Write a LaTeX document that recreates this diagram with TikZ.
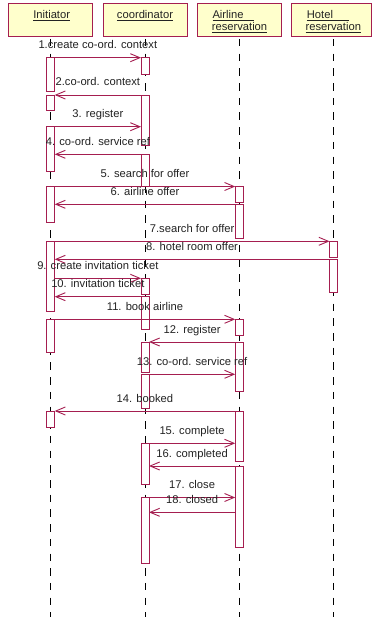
\documentclass[tikz,border=0pt]{standalone}
\usepackage{fontspec}
\setmainfont{Liberation Sans}
\usetikzlibrary{arrows.meta}
\definecolor{umlred}{RGB}{165,30,80}
\definecolor{umlfill}{RGB}{255,255,204}
\definecolor{txtc}{RGB}{35,35,35}
\newcommand\actv[4]{\node[actbox, minimum height={(#4)-(#3)}] (#1) at (#2,{((#3)+(#4))/2}) {};}
\newcommand\msg[5]{%
  \coordinate (#1s) at (#2,#4);
  \coordinate (#1e) at (#3,#4);
  \draw[msg] (#1s) -- (#1e) node[lbl, midway, yshift=9pt] {#5};}
\begin{document}
\begin{tikzpicture}[x=1pt,y=-1pt,
  headbox/.style={draw=umlred, fill=umlfill, line width=1pt, minimum width=84pt, minimum height=33pt, inner sep=0pt},
  headtxt/.style={text=txtc, font=\fontsize{11.2}{13}\selectfont, inner sep=0pt},
  life/.style={draw=black, line width=0.9pt, dash pattern=on 7.5pt off 7.2pt, dash phase=-2pt},
  actbox/.style={draw=umlred, fill=white, line width=0.9pt, minimum width=8pt, inner sep=0pt},
  msg/.style={draw=umlred, line width=0.9pt, -{Straight Barb[length=9.5pt,width=8pt]}},
  lbl/.style={text=txtc, font=\fontsize{11.2}{13}\selectfont, inner sep=0pt, anchor=base}
]
\useasboundingbox (0,0) rectangle (372,617);
\fill[white] (0,0) rectangle (372,617);

% header boxes
\node[headbox] (I) at (50.5,20.5) {};
\node[headbox] (C) at (145,20.5) {};
\node[headbox] (A) at (239,20.5) {};
\node[headbox, minimum width=79.3pt] (H) at (331.35,20.5) {};

% lifelines
\coordinate (Itop) at (50.7,37);  \coordinate (Iend) at (50.7,617);
\coordinate (Ctop) at (145,37);   \coordinate (Cend) at (145,617);
\coordinate (Atop) at (239.2,37); \coordinate (Aend) at (239.2,617);
\coordinate (Htop) at (333.5,37); \coordinate (Hend) at (333.5,617);
\draw[life] (Itop) -- (Iend);
\draw[life] (Ctop) -- (Cend);
\draw[life] (Atop) -- (Aend);
\draw[life] (Htop) -- (Hend);

% header texts
\node[headtxt, anchor=base] (It) at (51.7,18.3) {\underline{Initiator}};
\node[headtxt, anchor=base] (Ct) at (145,18.3) {\underline{coordinator}};
\node[headtxt, anchor=base west] (At1) at (212.3,18.3) {\underline{Airline\hspace{10.5pt}}};
\node[headtxt, anchor=base] (At2) at (239.5,31) {\underline{reservation}};
\node[headtxt, anchor=base west] (Ht1) at (306.7,18.3) {\underline{Hotel\hspace{15.5pt}}};
\node[headtxt, anchor=base] (Ht2) at (333.3,31) {\underline{reservation}};

% activations: Initiator
\actv{Ia}{50.7}{57.7}{91}
\actv{Ib}{50.7}{95}{110.7}
\actv{Ic}{50.7}{126.7}{171.7}
\actv{Id}{50.7}{186.5}{222.5}
\actv{Ie}{50.7}{241.3}{311.7}
\actv{If}{50.7}{319.3}{352.7}
\actv{Ig}{50.7}{411}{427.3}
% coordinator
\actv{Ca}{145}{57.7}{74}
\actv{Cb}{145}{95}{145}
\actv{Cc}{145}{154.3}{186.7}
\actv{Cd}{145}{278.3}{294}
\actv{Ce}{145}{296.7}{329.5}
\actv{Cf}{145}{342}{372.5}
\actv{Cg}{145}{374.3}{408}
\actv{Ch}{145}{443.3}{484.3}
\actv{Ci}{145}{497.5}{563}
% airline
\actv{Aa}{239.2}{186.5}{202.7}
\actv{Ab}{239.2}{204.3}{238.3}
\actv{Ac}{239.2}{319.3}{335.3}
\actv{Ad}{239.2}{342}{391.7}
\actv{Ae}{239.2}{411}{461.5}
\actv{Af}{239.2}{466}{547.3}
% hotel
\actv{Ha}{333.5}{241.3}{257.3}
\actv{Hb}{333.5}{259.3}{292.7}

% messages
\msg{m1}{54.7}{141}{57.7}{1.create co-ord. context}
\msg{m2}{141}{54.7}{95}{2.co-ord. context}
\msg{m3}{54.7}{141}{126.7}{3. register}
\msg{m4}{141}{54.7}{154.3}{4. co-ord. service ref}
\msg{m5}{54.7}{235.2}{186.5}{5. search for offer}
\msg{m6}{235.2}{54.7}{204.3}{6. airline offer}
\msg{m7}{54.7}{329.5}{241.3}{7.search for offer}
\msg{m8}{329.5}{54.7}{259.3}{8. hotel room offer}
\msg{m9}{54.7}{141}{278.3}{9. create invitation ticket}
\msg{m10}{141}{54.7}{296.7}{10. invitation ticket}
\msg{m11}{54.7}{235.2}{319.3}{11. book airline}
\msg{m12}{235.2}{149}{342}{12. register}
\msg{m13}{149}{235.2}{374.3}{13. co-ord. service ref}
\msg{m14}{235.2}{54.7}{411}{14. booked}
\msg{m15}{149}{235.2}{443.3}{15. complete}
\msg{m16}{235.2}{149}{466}{16. completed}
\msg{m17}{149}{235.2}{497.5}{17. close}
\msg{m18}{235.2}{149}{512.3}{18. closed}
\end{tikzpicture}
\end{document}
